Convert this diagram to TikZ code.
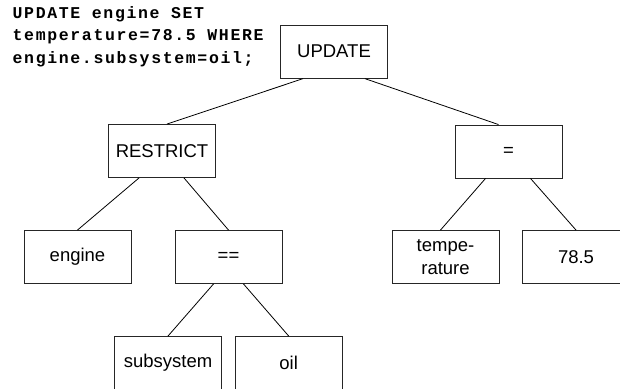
\documentclass[tikz,border=0pt]{standalone}
\usepackage{fontspec}
\setmainfont{Liberation Sans}
\newfontfamily\codefont[LetterSpace=10,BoldFont={Liberation Mono Bold}]{Liberation Mono}
\usetikzlibrary{calc}
\begin{document}
\begin{tikzpicture}[x=1pt,y=-1pt,
  box/.style={draw=black!85, line width=0.9pt, minimum width=107pt, minimum height=53pt, inner sep=0pt, font=\fontsize{18.5}{23}\selectfont, align=center},
  conn/.style={draw=black, line width=0.8pt}]
\useasboundingbox (0,0) rectangle (620,388);
\clip (0,0) rectangle (620,388);
\fill[white] (0,0) rectangle (620,388);
\node[anchor=north west, align=left, inner sep=0pt, font=\codefont\bfseries\fontsize{16.5}{22.3}\selectfont] (code) at (12.5,6.5)
  {UPDATE engine SET\\temperature=78.5 WHERE\\engine.subsystem=oil;};
\node[box] (U) at (334,51.7) {UPDATE};
\node[box] (R) at (162,151) {RESTRICT};
\node[box] (E) at (508.5,151.5) {=};
\node[box] (en) at (77.5,257) {engine};
\node[box] (eq) at (228.5,257) {==};
\node[box] (T) at (445.5,257) {tempe-\\rature};
\node[box] (N) at (576,257) {78.5};
\node[box] (S) at (168,363) {subsystem};
\node[box] (O) at (288.7,363) {oil};
\draw[conn] ($(U.south)+(-31,0)$) -- ($(R.north)+(5,0)$);
\draw[conn] ($(U.south)+(31,0)$) -- ($(E.north)+(-10,0)$);
\draw[conn] ($(R.south)+(-23,0)$) -- (en.north);
\draw[conn] ($(R.south)+(22,0)$) -- (eq.north);
\draw[conn] ($(E.south)+(-23,0)$) -- ($(T.north)+(-5,0)$);
\draw[conn] ($(E.south)+(22,0)$) -- (N.north);
\draw[conn] ($(eq.south)+(-15,0)$) -- (S.north);
\draw[conn] ($(eq.south)+(15,0)$) -- (O.north);
\end{tikzpicture}
\end{document}
